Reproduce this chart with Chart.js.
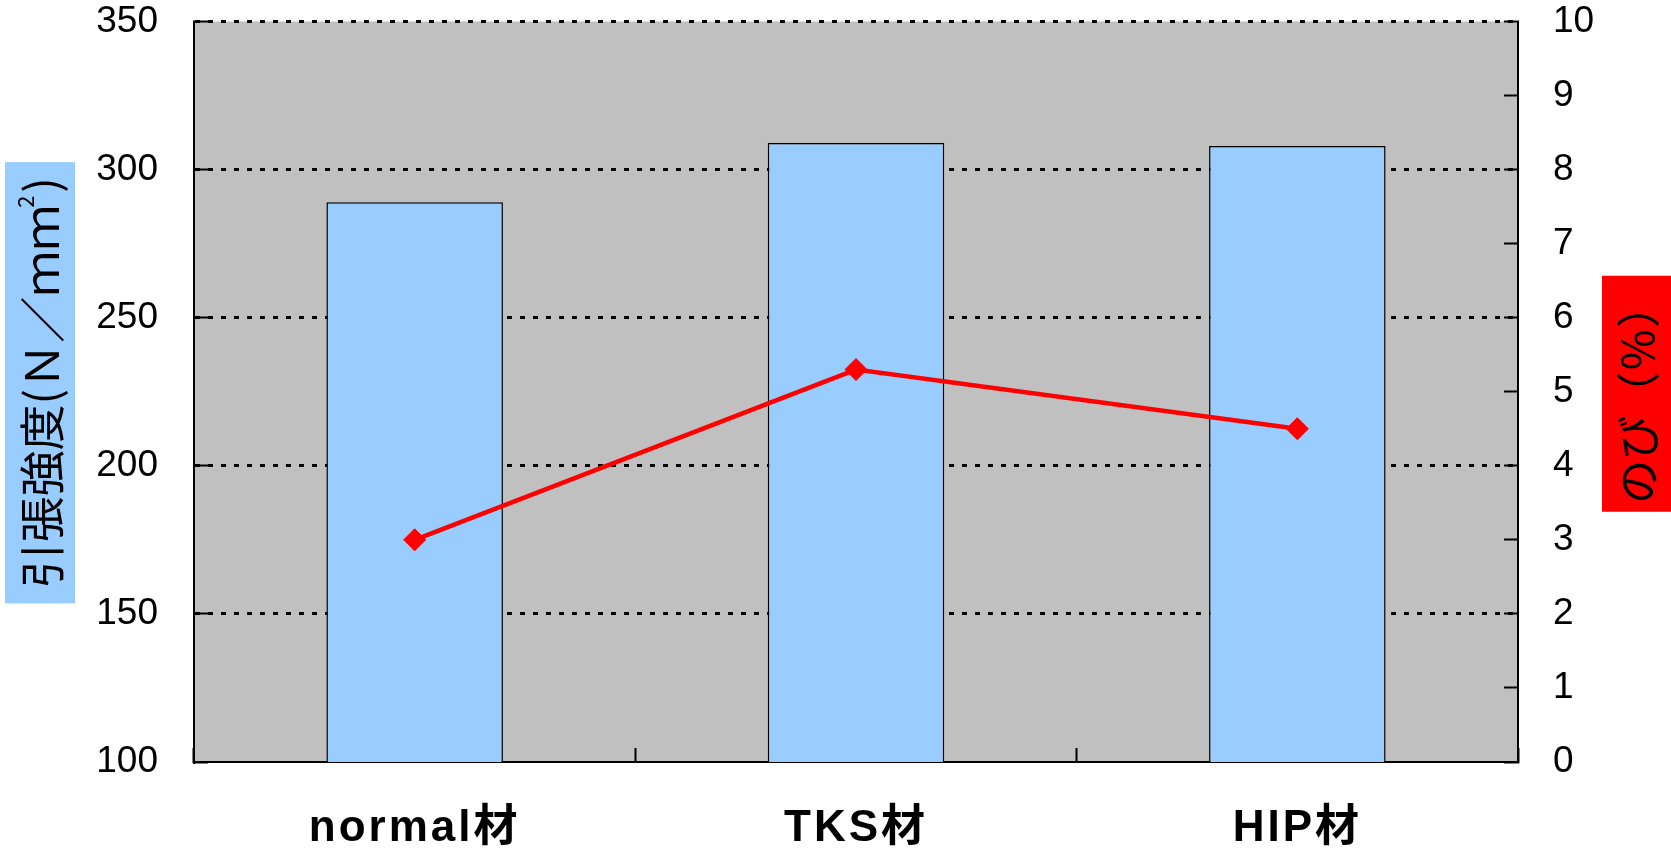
<!DOCTYPE html>
<html>
<head>
<meta charset="utf-8">
<script src="https://cdn.jsdelivr.net/npm/chart.js@4/dist/chart.umd.min.js"></script>
<style>
body { margin: 0; background: #fff; }
#wrap { width: 1671px; height: 855px; }
</style>
</head>
<body>
<div id="wrap"><canvas id="canvas" width="1671" height="855"></canvas></div>
<script>
// materials and measured values
const categories = ['normal材', 'TKS材', 'HIP材'];
const strength = [289, 309, 308];      // 引張強度 N/mm2 (bars, left axis)
const elongation = [3.0, 5.3, 4.5];    // のび % (line, right axis)
const strengthTicks = [100, 150, 200, 250, 300, 350];
const elongationTicks = [0, 1, 2, 3, 4, 5, 6, 7, 8, 9, 10];
// left title is split so the "2" can be drawn as a superscript
const strengthTitle = ['引張強度(Ｎ／ｍｍ', '2', ')'];
const elongationTitle = 'のび（％）';

const tickFont = { family: '"Liberation Sans", "Noto Sans CJK JP", sans-serif', size: 37 };
const cjk = '"Noto Sans CJK JP", sans-serif';

// grey plot background, plus a little letter spacing on the category labels
const plotBg = {
    id: 'plotBg',
    beforeDraw(chart) {
        const {ctx, chartArea: a} = chart;
        ctx.save();
        ctx.fillStyle = '#C0C0C0';
        ctx.fillRect(a.left, a.top, a.right - a.left, a.bottom - a.top);
        ctx.restore();

        const x = chart.scales.x;
        if (!x._spaced) {
            const orig = x.drawLabels;
            x.drawLabels = function(area) {
                this.ctx.save();
                this.ctx.letterSpacing = '3px';
                orig.call(this, area);
                this.ctx.restore();
            };
            x._spaced = true;
        }
    }
};

function titleBox(ctx, cx, cy, w, h, bg) {
    ctx.translate(cx, cy);
    ctx.rotate(-Math.PI / 2);
    ctx.fillStyle = bg;
    ctx.fillRect(-w / 2, -h / 2, w, h);
    ctx.fillStyle = '#000';
    ctx.textBaseline = 'middle';
}

// axis titles with coloured boxes
const sideTitles = {
    id: 'sideTitles',
    afterDraw(chart) {
        const {ctx, chartArea: a} = chart;
        const mid = (a.top + a.bottom) / 2;

        // left: 引張強度(N/mm²) on light blue
        ctx.save();
        const big = '46px ' + cjk, small = '22px ' + cjk;
        ctx.font = big;
        const w1 = ctx.measureText(strengthTitle[0]).width;
        const w3 = ctx.measureText(strengthTitle[2]).width;
        ctx.font = small;
        const w2 = ctx.measureText(strengthTitle[1]).width;
        const total = w1 + w2 + w3;
        titleBox(ctx, 40, mid - 9, total + 30, 70, '#99CCFF');
        ctx.textAlign = 'left';
        let p = -total / 2;
        ctx.font = big;
        ctx.fillText(strengthTitle[0], p, 2);
        p += w1;
        ctx.font = small;
        ctx.fillText(strengthTitle[1], p - 3, -14);
        p += w2;
        ctx.font = big;
        ctx.fillText(strengthTitle[2], p, 2);
        ctx.restore();

        // right: のび(%) on red
        ctx.save();
        ctx.font = '44px ' + cjk;
        const w = ctx.measureText(elongationTitle).width;
        titleBox(ctx, chart.width - 34.5, mid + 2, w + 16, 69, '#FF0000');
        ctx.textAlign = 'center';
        ctx.fillText(elongationTitle, 0, 2);
        ctx.restore();
    }
};

const ctx = document.getElementById('canvas').getContext('2d');
const myChart = new Chart(ctx, {
    type: 'bar',
    data: {
        labels: categories,
        datasets: [{
            type: 'line',
            label: 'のび',
            data: elongation,
            yAxisID: 'y1',
            order: 0,
            borderColor: '#FF0000',
            borderWidth: 4.5,
            pointStyle: 'rectRot',
            pointRadius: 11,
            pointBackgroundColor: '#FF0000',
            pointBorderColor: '#FF0000',
            pointBorderWidth: 1,
            tension: 0
        }, {
            type: 'bar',
            label: '引張強度',
            data: strength,
            yAxisID: 'y',
            order: 1,
            backgroundColor: '#99CCFF',
            borderColor: '#000',
            borderWidth: 1.5,
            categoryPercentage: 1,
            barPercentage: 0.4
        }]
    },
    options: {
        responsive: false,
        animation: false,
        layout: { padding: { top: 21.5, left: 0, right: 0, bottom: 0 } },
        plugins: {
            legend: { display: false },
            tooltip: { enabled: false }
        },
        scales: {
            x: {
                offset: true,
                grid: {
                    offset: true,
                    drawOnChartArea: false,
                    tickLength: -14,
                    tickColor: '#000',
                    tickWidth: 2
                },
                border: { color: '#000', width: 2 },
                ticks: {
                    color: '#000',
                    padding: 54,
                    font: { family: '"Liberation Sans", "Noto Sans CJK JP", sans-serif', size: 44, weight: 'bold' }
                },
                afterFit(s) { s.height = 93; s.paddingLeft = 0; s.paddingRight = 0; }
            },
            y: {
                position: 'left',
                min: 100,
                max: 350,
                afterBuildTicks(s) { s.ticks = strengthTicks.map(v => ({ value: v })); },
                grid: {
                    color: c => (c.tick && c.tick.value === 100) ? 'rgba(0,0,0,0)' : '#000',
                    lineWidth: 3,
                    tickLength: -14,
                    tickColor: '#000',
                    tickWidth: 2
                },
                border: { color: '#000', width: 2, dash: [5, 8] },
                ticks: { color: '#000', padding: 50, font: tickFont },
                afterFit(s) { s.width = 194; s.paddingTop = 0; s.paddingBottom = 0; }
            },
            y1: {
                position: 'right',
                min: 0,
                max: 10,
                afterBuildTicks(s) { s.ticks = elongationTicks.map(v => ({ value: v })); },
                grid: {
                    drawOnChartArea: false,
                    tickLength: -14,
                    tickColor: '#000',
                    tickWidth: 2
                },
                border: { color: '#000', width: 2 },
                ticks: { color: '#000', padding: 49, font: tickFont },
                afterFit(s) { s.width = 153; s.paddingTop = 0; s.paddingBottom = 0; }
            }
        }
    },
    plugins: [plotBg, sideTitles]
});
</script>
</body>
</html>
